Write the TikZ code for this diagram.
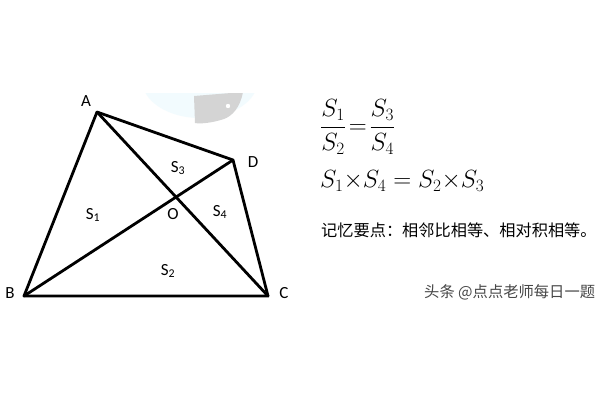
\documentclass[tikz,border=0pt]{standalone}
\usepackage{fontspec}
\setmainfont{Carlito}
\newfontfamily\cjk{Noto Sans CJK SC}
\usepackage{amsmath}
\begin{document}
\begin{tikzpicture}[x=1pt,y=-1pt,
  lbl/.style={font=\fontsize{17}{19}\selectfont, inner sep=0pt},
  edge/.style={line width=2.8pt, line join=round, line cap=round}]
\useasboundingbox[fill=white] (0,0) rectangle (600,400);
% faint watermark logo
\begin{scope}
\clip (130,93) rectangle (260,135);
\fill[cyan!5] (200,80) ellipse [x radius=58, y radius=38];
\fill[black!17] (194,96) -- (243,92) .. controls (240,108) and (232,116) .. (224,119) .. controls (212,123) and (200,124) .. (195,123) -- cycle;
\fill[white] (228,106) circle (2.2);
\end{scope}
% points
\coordinate (A) at (97,112);
\coordinate (D) at (233,160);
\coordinate (C) at (268,296);
\coordinate (B) at (24,296);
\draw[edge] (A) -- (D) -- (C) -- (B) -- cycle;
\draw[edge] (A) -- (C);
\draw[edge] (B) -- (D);
% labels
\node[lbl] (la) at (86,101) {A};
\node[lbl] (ld) at (253,162) {D};
\node[lbl] (lb) at (10,293) {B};
\node[lbl] (lc) at (284,293) {C};
\node[lbl] (lo) at (173,214) {O};
\node[lbl] (s1) at (93,215) {S\textsubscript{1}};
\node[lbl] (s2) at (168,271) {S\textsubscript{2}};
\node[lbl] (s3) at (178,168) {S\textsubscript{3}};
\node[lbl] (s4) at (220,212) {S\textsubscript{4}};
% formulas
\node[anchor=west, inner sep=0pt, font=\fontsize{24}{28}\selectfont] (f1) at (320,127) {$\dfrac{S_1}{S_2}\!=\!\dfrac{S_3}{S_4}$};
\node[anchor=west, inner sep=0pt, font=\fontsize{23}{27}\selectfont] (f2) at (320,181) {$S_1{\times}S_4=S_2{\times}S_3$};
\node[anchor=west, inner sep=0pt, font=\cjk\fontsize{16.2}{19}\selectfont] (t1) at (321,230) {记忆要点：相邻比相等、相对积相等。};
\node[anchor=west, inner sep=0pt, text=black!72, font=\cjk\fontsize{15.3}{18}\selectfont] (wm) at (424,292) {头条 @点点老师每日一题};
\end{tikzpicture}
\end{document}
